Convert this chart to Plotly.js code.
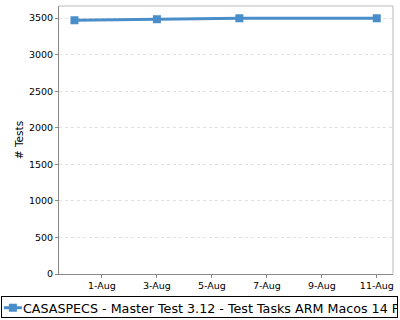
<!DOCTYPE html>
<html>
<head>
<meta charset="utf-8">
<script src="https://cdn.plot.ly/plotly-3.0.1.min.js"></script>
<style>
  html, body { margin: 0; padding: 0; background: #fff; overflow: hidden; }
  #chart { width: 400px; height: 320px; }
</style>
</head>
<body>
<div id="chart"></div>
<script>
// Test run history: dates and test counts
const runDates = ['2024-07-31', '2024-08-03', '2024-08-06', '2024-08-11'];
const testCounts = [3470, 3484, 3497, 3497];
const seriesName = 'CASASPECS - Master Test 3.12 - Test Tasks ARM Macos 14 Py3.12';

const lineColor = '#4a8ec9';

const trace = {
  x: runDates,
  y: testCounts,
  name: seriesName,
  type: 'scatter',
  mode: 'lines+markers',
  line: { color: lineColor, width: 3 },
  marker: { symbol: 'square', size: 8, color: lineColor },
  showlegend: true
};

const tickFont = { size: 9.5, family: 'DejaVu Sans', color: '#000' };

const layout = {
  width: 400,
  height: 320,
  margin: { l: 59, r: 7, t: 6, b: 46, autoexpand: false },
  paper_bgcolor: '#ffffff',
  plot_bgcolor: '#ffffff',
  font: { family: 'DejaVu Sans', color: '#000', size: 10 },
  showlegend: true,
  xaxis: {
    type: 'date',
    range: ['2024-07-30 10:30', '2024-08-11 14:10'],
    tick0: '2024-08-01',
    dtick: 2 * 86400000,
    tickformat: '%-d-%b',
    ticks: 'outside',
    ticklen: 3,
    tickcolor: '#888',
    showgrid: false,
    showline: true,
    linecolor: '#888',
    linewidth: 1,
    zeroline: false,
    automargin: false,
    tickfont: tickFont
  },
  yaxis: {
    range: [0, 3665],
    dtick: 500,
    tick0: 0,
    ticks: 'outside',
    ticklen: 3,
    tickcolor: '#888',
    showgrid: true,
    gridcolor: '#e0e0e0',
    griddash: '3px,3px',
    showline: true,
    linecolor: '#888',
    linewidth: 1,
    zeroline: false,
    automargin: false,
    tickfont: tickFont,
    title: { text: '# Tests', font: { size: 10.5, family: 'DejaVu Sans', color: '#000' }, standoff: 3 }
  },
  shapes: [
    // light frame on the top and right of the plot area
    { type: 'line', xref: 'paper', yref: 'paper', x0: 0, x1: 1, y0: 1, y1: 1, line: { color: '#bbbbbb', width: 1 } },
    { type: 'line', xref: 'paper', yref: 'paper', x0: 1, x1: 1, y0: 0, y1: 1, line: { color: '#bbbbbb', width: 1 } }
  ],
  legend: {
    orientation: 'h',
    x: -0.174,
    xanchor: 'left',
    y: -0.082,
    yanchor: 'top',
    bordercolor: '#000',
    borderwidth: 1,
    font: { size: 12.7, family: 'DejaVu Sans', color: '#000' },
    itemwidth: 30
  }
};

// Compact legend: short swatch line with the square marker, text close behind it,
// and a box that stops just short of the right edge (clipping the long name).
function compactLegend(gd) {
  const boxW = 396, boxH = 21, liftY = 4;
  gd.querySelectorAll('.legend .traces').forEach(function (item) {
    const m = /translate\(\s*([-\d.]+)[ ,]+([-\d.]+)\s*\)/.exec(item.getAttribute('transform') || '');
    if (m) item.setAttribute('transform', 'translate(' + m[1] + ',' + (parseFloat(m[2]) - liftY) + ')');
    const line = item.querySelector('.legendlines path');
    if (line) line.setAttribute('d', 'M2,0h18');
    item.querySelectorAll('.legendpoints path').forEach(function (p) {
      p.setAttribute('transform', 'translate(11,0)');
    });
    const txt = item.querySelector('.legendtext');
    if (txt) {
      txt.setAttribute('x', '21');
      txt.querySelectorAll('tspan').forEach(function (t) { if (t.getAttribute('x')) t.setAttribute('x', '21'); });
    }
  });
  const bg = gd.querySelector('.legend rect.bg');
  if (bg) { bg.setAttribute('width', boxW); bg.setAttribute('height', boxH); }
  const clip = gd.querySelector('clipPath[id^="legend"] rect');
  if (clip) { clip.setAttribute('width', boxW - 1); clip.setAttribute('height', boxH); }
}

Plotly.newPlot('chart', [trace], layout, { displayModeBar: false, staticPlot: true })
  .then(compactLegend);
</script>
</body>
</html>
